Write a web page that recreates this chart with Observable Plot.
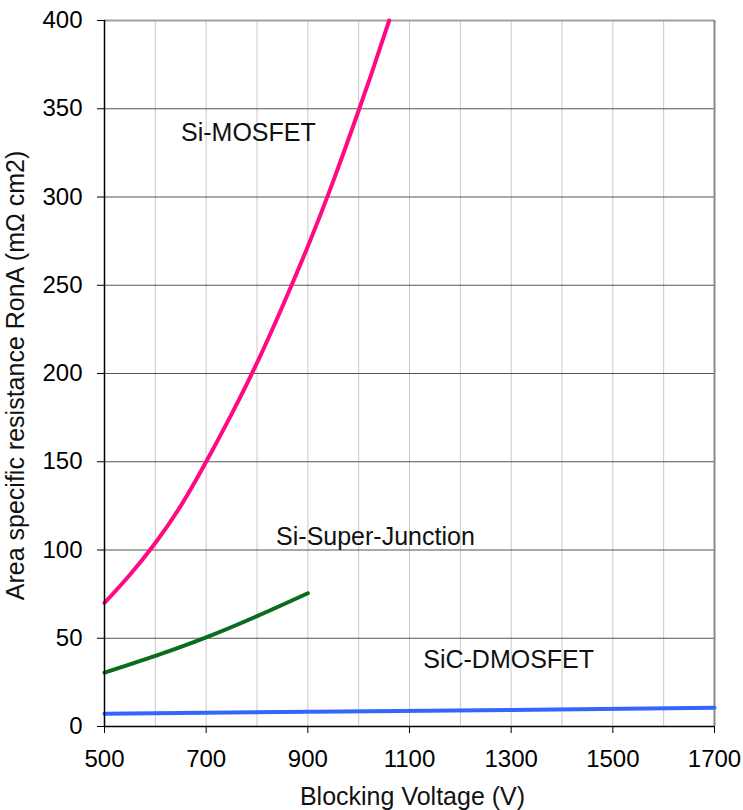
<!DOCTYPE html>
<html>
<head>
<meta charset="utf-8">
<script src="https://cdn.jsdelivr.net/npm/d3@7"></script>
<script src="https://cdn.jsdelivr.net/npm/@observablehq/plot@0.6"></script>
<style>
  html, body { margin: 0; padding: 0; background: #fff; }
</style>
</head>
<body>
<div id="chart"></div>
<script>
// ---- data ----
const mosV = [500, 550, 600, 650, 700, 750, 800, 850, 900, 950, 1000, 1030, 1060];
const mosR = [70, 86, 104, 125, 150, 177, 206, 238, 272, 309, 349, 374, 400];
const sjV = [500, 600, 700, 800, 900];
const sjR = [30.5, 40, 50.5, 62.5, 75.5];
const sicV = [500, 900, 1300, 1700];
const sicR = [7.2, 8.3, 9.4, 10.6];

const seriesNames = ["Si-MOSFET", "Si-Super-Junction", "SiC-DMOSFET"];
const seriesColors = ["#ff0a84", "#0b6b1f", "#3366ff"];
const labelV = [783, 1033, 1295];
const labelR = [336, 107.6, 37.4];

const xTicks = [500, 700, 900, 1100, 1300, 1500, 1700];
const xGrid = [600, 700, 800, 900, 1000, 1100, 1200, 1300, 1400, 1500, 1600];
const yTicks = [0, 50, 100, 150, 200, 250, 300, 350, 400];
const yGrid = [50, 100, 150, 200, 250, 300, 350];
const xTitle = "Blocking Voltage (V)";
const yTitle = "Area specific resistance RonA (mΩ cm2)";

// ---- tables built from the arrays ----
const rows = [
  ...mosV.map((v, i) => ({series: seriesNames[0], v, r: mosR[i]})),
  ...sjV.map((v, i) => ({series: seriesNames[1], v, r: sjR[i]})),
  ...sicV.map((v, i) => ({series: seriesNames[2], v, r: sicR[i]}))
];
const labels = seriesNames.map((name, i) => ({name, v: labelV[i], r: labelR[i]}));

const font = "'Liberation Sans', Arial, sans-serif";

const chart = Plot.plot({
  width: 743,
  height: 810,
  marginLeft: 104,
  marginRight: 29,
  marginTop: 20,
  marginBottom: 84,
  style: {fontFamily: font, fontSize: "24px", background: "#fff", color: "#000"},
  x: {domain: [500, 1700]},
  y: {domain: [0, 400]},
  color: {domain: seriesNames, range: seriesColors},
  marks: [
    Plot.ruleX(xGrid, {stroke: "#c8c8c8", strokeWidth: 1}),
    Plot.ruleY(yGrid, {stroke: "#555", strokeWidth: 1.2}),
    Plot.ruleY([400], {stroke: "#a0a0a0", strokeWidth: 2}),
    Plot.ruleX([1700], {stroke: "#888", strokeWidth: 2}),
    Plot.lineY(rows, {x: "v", y: "r", z: "series", stroke: "series", strokeWidth: 4, curve: "natural"}),
    Plot.ruleX([500], {stroke: "#000", strokeWidth: 1.5}),
    Plot.ruleY([0], {stroke: "#000", strokeWidth: 1.5}),
    Plot.axisX(xTicks, {tickSize: 7, tickPadding: 16, label: null, fontSize: 24, tickFormat: d => String(d)}),
    Plot.axisY(yTicks, {tickSize: 7, tickPadding: 15, label: null, fontSize: 24, tickFormat: d => String(d)}),
    Plot.text(labels, {x: "v", y: "r", text: "name", fontSize: 25, fill: "#111", ariaLabel: "series-label"}),
    Plot.text([xTitle], {text: d => d, frameAnchor: "bottom", textAnchor: "middle", dy: 78, dx: 3, fontSize: 25, fill: "#111"}),
    Plot.text([yTitle], {text: d => d, frameAnchor: "left", textAnchor: "middle", rotate: -90, dx: -89, dy: 2, fontSize: 25, fill: "#111"})
  ]
});

document.getElementById("chart").appendChild(chart);

// white boxes behind the series labels (sized from the rendered text)
const svg = d3.select(chart);
svg.selectAll('g[aria-label="series-label"] text').each(function () {
  const node = this;
  const b = node.getBBox();
  d3.select(node.parentNode)
    .insert("rect", () => node)
    .attr("x", b.x - 12)
    .attr("y", b.y - 10)
    .attr("width", b.width + 24)
    .attr("height", b.height + 20)
    .attr("fill", "#fff")
    .attr("stroke", "none")
    .attr("transform", node.getAttribute("transform"));
});
</script>
</body>
</html>
